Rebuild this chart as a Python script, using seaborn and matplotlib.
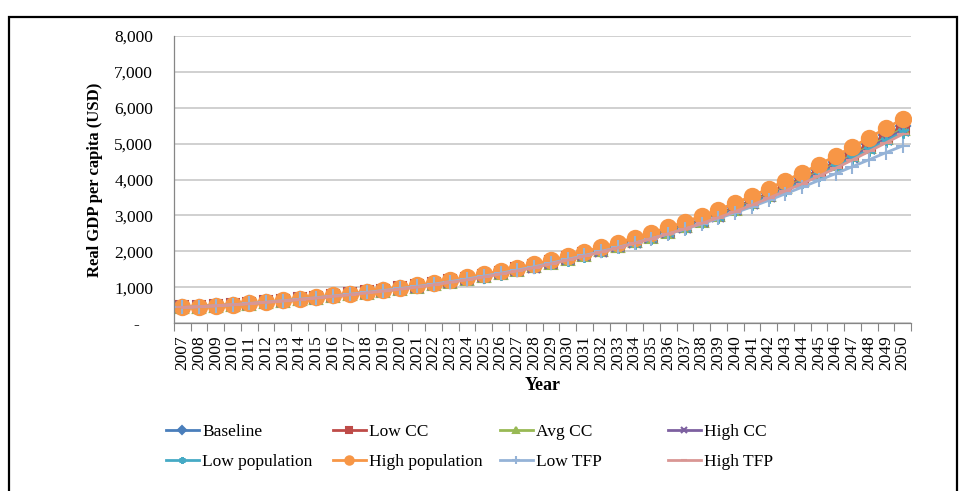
import matplotlib
matplotlib.use('Agg')
import matplotlib.pyplot as plt
import matplotlib.patches as patches
import seaborn as sns

plt.rcParams['font.family'] = ['Liberation Serif', 'DejaVu Serif']

# data (real GDP per capita, USD)
years = [str(y) for y in range(2007, 2051)]

baseline = [435, 459, 483, 512, 546, 584, 623, 666, 709, 757, 805, 858, 911, 969,
            1027, 1094, 1166, 1243, 1325, 1411, 1503, 1599, 1705, 1815, 1931, 2051,
            2176, 2306, 2441, 2580, 2729, 2888, 3056, 3234, 3422, 3624, 3836, 4047,
            4269, 4499, 4740, 4990, 5240, 5490]
low_cc = [435, 459, 483, 511, 545, 583, 621, 664, 707, 755, 802, 855, 907, 965,
          1022, 1089, 1160, 1237, 1318, 1404, 1494, 1590, 1695, 1804, 1919, 2038,
          2162, 2291, 2425, 2563, 2711, 2868, 3035, 3212, 3398, 3599, 3808, 4018,
          4238, 4467, 4705, 4954, 5202, 5450]
avg_cc = [435, 459, 482, 511, 544, 582, 620, 662, 705, 752, 800, 852, 904, 961,
          1018, 1084, 1155, 1231, 1312, 1397, 1487, 1582, 1686, 1795, 1909, 2027,
          2150, 2278, 2411, 2548, 2695, 2852, 3017, 3193, 3378, 3577, 3785, 3994,
          4212, 4439, 4676, 4922, 5169, 5415]
high_cc = [435, 458, 482, 510, 543, 581, 618, 661, 703, 750, 797, 849, 900, 957,
           1013, 1079, 1149, 1225, 1304, 1389, 1478, 1572, 1676, 1784, 1897, 2014,
           2136, 2263, 2395, 2531, 2677, 2832, 2996, 3170, 3354, 3551, 3758, 3965,
           4181, 4406, 4641, 4886, 5130, 5375]
low_pop = [435, 458, 481, 509, 542, 579, 616, 658, 700, 746, 793, 844, 895, 951,
           1007, 1072, 1141, 1216, 1295, 1379, 1467, 1560, 1662, 1769, 1881, 1997,
           2118, 2243, 2373, 2508, 2652, 2805, 2968, 3140, 3321, 3517, 3721, 3926,
           4139, 4363, 4595, 4837, 5078, 5320]
high_pop = [435, 460, 485, 515, 550, 590, 630, 675, 720, 770, 820, 875, 930, 990,
            1050, 1120, 1195, 1275, 1360, 1450, 1545, 1645, 1755, 1870, 1990, 2115,
            2245, 2380, 2520, 2665, 2820, 2985, 3160, 3345, 3540, 3750, 3970, 4190,
            4420, 4660, 4910, 5170, 5430, 5690]
low_tfp = [435, 459, 483, 512, 546, 584, 622, 666, 708, 756, 804, 856, 908, 964,
           1021, 1086, 1157, 1232, 1310, 1392, 1480, 1571, 1671, 1777, 1885, 1997,
           2113, 2232, 2356, 2484, 2620, 2764, 2917, 3077, 3243, 3420, 3605, 3788,
           3978, 4166, 4360, 4555, 4751, 4939]
high_tfp = [435, 458, 481, 509, 541, 577, 614, 656, 697, 743, 789, 839, 890, 945,
            1000, 1065, 1134, 1207, 1285, 1368, 1455, 1547, 1648, 1754, 1864, 1979,
            2099, 2223, 2351, 2485, 2627, 2779, 2940, 3110, 3289, 3482, 3684, 3886,
            4098, 4318, 4548, 4787, 5026, 5265]

series_names = ['Baseline', 'Low CC', 'Avg CC', 'High CC',
                'Low population', 'High population', 'Low TFP', 'High TFP']
series_values = [baseline, low_cc, avg_cc, high_cc, low_pop, high_pop, low_tfp, high_tfp]
y_ticks = [0, 1000, 2000, 3000, 4000, 5000, 6000, 7000, 8000]
y_tick_labels = ['-   ', '1,000', '2,000', '3,000', '4,000', '5,000', '6,000', '7,000', '8,000']

# styling (excel-like)
colors = ['#4A7EBB', '#BE4B48', '#98B954', '#7D60A0', '#46AAC5', '#F79646', '#95B3D7', '#D99694']
markers = ['D', 's', '^', 'x', (6, 2, 0), 'o', '+', '_']
msizes = [7, 8, 8, 8, 9, 11, 10, 8]

fig = plt.figure(figsize=(9.59, 4.91), dpi=100)
ax = fig.add_axes([0.1814, 0.342, 0.7686, 0.5845])

x = list(range(len(years)))
handles = []
for name, vals, c, m, ms in zip(series_names, series_values, colors, markers, msizes):
    sns.lineplot(x=x, y=vals, ax=ax, color=c, marker=m, markersize=ms,
                 markeredgecolor=c, markerfacecolor=c, markeredgewidth=1.5,
                 linewidth=2, label=name, legend=False)
    handles.append(ax.lines[-1])

ax.set_xlim(-0.5, len(years) - 0.5)
ax.set_ylim(0, 8000)
ax.set_yticks(y_ticks)
ax.set_yticklabels(y_tick_labels)
ax.set_xticks(x)
ax.set_xticklabels(years, rotation=90)
ax.set_xticks([i - 0.5 for i in range(len(years) + 1)], minor=True)
ax.tick_params(axis='x', which='major', length=0, pad=9, labelsize=12.5)
ax.tick_params(axis='x', which='minor', length=6, width=0.8, color='#868686', direction='out')
ax.tick_params(axis='y', length=0, pad=15, labelsize=12.5)

ax.grid(axis='y', color='#C4C4C4', linewidth=1.1)
ax.grid(axis='x', visible=False)
ax.set_axisbelow(True)
for side in ['top', 'right']:
    ax.spines[side].set_visible(False)
for side in ['left', 'bottom']:
    ax.spines[side].set_color('#868686')
    ax.spines[side].set_linewidth(0.9)

ax.set_xlabel('Year', fontsize=13, fontweight='bold', labelpad=5)
ax.set_ylabel('Real GDP per capita (USD)', fontsize=12, fontweight='bold', labelpad=8)

# legend: excel lays it out in equal-width columns, one legend per column
col_x = [166, 333, 500, 668]
for j in range(4):
    fig.legend([handles[j], handles[j + 4]], [series_names[j], series_names[j + 4]],
               loc='upper left', bbox_to_anchor=(col_x[j] / 959, 1 - 424 / 491),
               frameon=False, fontsize=12.5, handlelength=1.9, handletextpad=0.2,
               labelspacing=0.78, borderpad=0, borderaxespad=0, markerscale=0.55,
               numpoints=1)

# outer frame around the chart
fig.patches.append(patches.Rectangle((9 / 959, -0.05), 948 / 959, 1.05 - 17 / 491,
                                     transform=fig.transFigure, fill=False,
                                     edgecolor='black', linewidth=1.6))

fig.savefig('out.png', dpi=100)
